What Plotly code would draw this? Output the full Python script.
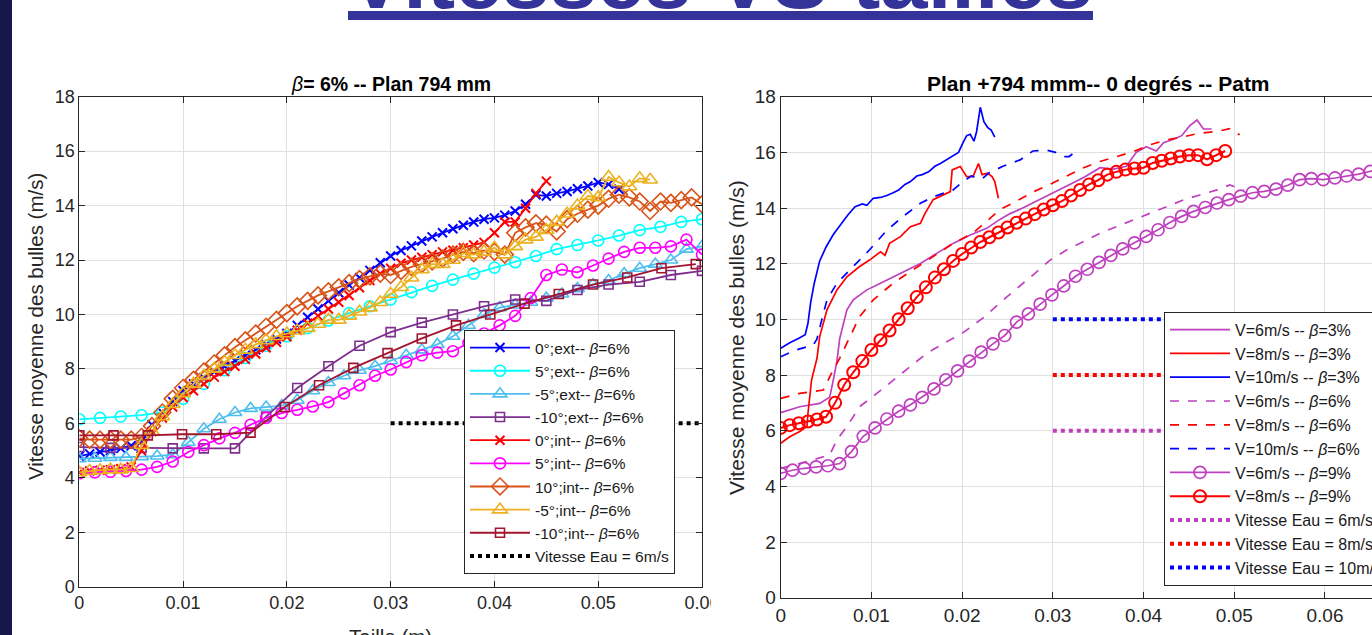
import plotly.graph_objects as go

W, H = 1420, 660
FONT = "Liberation Sans, Arial, sans-serif"
INK = "#262626"
GRID = "#e0e0e0"


def px(x):
    return x / W


def py(y):
    return 1 - y / H


# ---------------- left panel data (beta = 6 %) ----------------
X_BLUE = [round(i * 0.001, 4) for i in range(53)]
V_0_EXT = [4.80, 4.88, 4.95, 5.00, 5.08, 5.18, 5.35, 5.95, 6.40, 6.80,
           7.20, 7.45, 7.68, 7.90, 8.10, 8.30, 8.50, 8.70, 8.90, 9.10,
           9.30, 9.60, 9.90, 10.20, 10.50, 10.80, 11.08, 11.35, 11.62, 11.90,
           12.15, 12.35, 12.52, 12.70, 12.85, 13.00, 13.15, 13.28, 13.40, 13.50,
           13.55, 13.65, 13.80, 14.05, 14.40, 14.35, 14.45, 14.52, 14.62, 14.72,
           14.85, 14.78, 14.60]

X_CYAN = [round(i * 0.002, 4) for i in range(31)]
V_5_EXT = [6.15, 6.20, 6.25, 6.30, 6.40, 6.90, 7.45, 7.95, 8.40, 8.85,
           9.20, 9.50, 9.78, 10.05, 10.30, 10.55, 10.82, 11.05, 11.28, 11.50,
           11.72, 11.92, 12.15, 12.40, 12.55, 12.72, 12.90, 13.10, 13.22, 13.40,
           13.50]

X_LBLUE = [round(i * 0.0015, 4) for i in range(41)]
V_M5_EXT = [4.70, 4.72, 4.75, 4.75, 4.78, 4.80, 4.85, 5.30, 5.80, 6.15,
            6.40, 6.55, 6.60, 6.65, 6.85, 7.20, 7.50, 7.75, 7.95, 8.10,
            8.30, 8.50, 8.70, 8.90, 9.20, 9.60, 10.00, 10.25, 10.35, 10.45,
            10.60, 10.75, 10.95, 11.10, 11.25, 11.50, 11.70, 11.85, 12.00, 12.40,
            12.50]

X_PURPLE = [round(i * 0.003, 4) for i in range(21)]
V_M10_EXT = [5.13, 5.10, 5.10, 5.08, 5.08, 5.08, 6.25, 7.30, 8.10, 8.85,
             9.35, 9.70, 10.00, 10.30, 10.55, 10.50, 10.90, 11.10, 11.20, 11.45,
             11.60]

X_RED = [round(i * 0.001, 4) for i in range(46)]
V_0_INT = [4.20, 4.25, 4.28, 4.30, 4.33, 4.40, 5.00, 5.70, 6.20, 6.60,
           6.95, 7.20, 7.45, 7.70, 7.90, 8.10, 8.35, 8.55, 8.78, 8.98,
           9.18, 9.42, 9.68, 9.95, 10.20, 10.45, 10.70, 10.98, 11.25, 11.50,
           11.70, 11.88, 12.00, 12.10, 12.20, 12.30, 12.36, 12.45, 12.55, 12.65,
           13.00, 13.40, 13.40, 13.90, 14.45, 14.90]

X_MAGENTA = [round(i * 0.0015, 4) for i in range(41)]
V_5_INT = [4.17, 4.20, 4.22, 4.25, 4.30, 4.40, 4.60, 4.95, 5.20, 5.45,
           5.65, 5.95, 6.20, 6.38, 6.50, 6.62, 6.78, 7.10, 7.40, 7.75,
           7.98, 8.25, 8.50, 8.60, 8.65, 8.95, 9.30, 9.60, 9.95, 10.60,
           11.45, 11.65, 11.55, 11.80, 12.05, 12.30, 12.45, 12.45, 12.50, 12.75,
           12.20]

X_ORANGE = [round(i * 0.001, 4) for i in range(61)]
V_10_INT = [5.45, 5.40, 5.40, 5.40, 5.40, 5.40, 5.50, 5.90, 6.40, 6.90,
            7.30, 7.60, 7.90, 8.20, 8.50, 8.80, 9.05, 9.30, 9.55, 9.80,
            10.05, 10.30, 10.50, 10.70, 10.85, 11.00, 11.15, 11.30, 11.40, 11.50,
            11.45, 11.60, 11.75, 11.85, 11.95, 12.05, 12.20, 12.30, 12.25, 12.35,
            12.30, 12.20, 13.00, 13.20, 13.35, 13.30, 13.05, 13.50, 13.70, 13.85,
            14.00, 14.25, 14.40, 14.30, 14.15, 13.80, 14.15, 14.10, 14.20, 14.30,
            14.05]

X_YELLOW = [round(i * 0.001, 4) for i in range(56)]
V_M5_INT = [4.20, 4.25, 4.28, 4.30, 4.30, 4.35, 5.20, 5.70, 6.25, 6.70,
            7.10, 7.45, 7.75, 8.00, 8.25, 8.50, 8.70, 8.90, 9.05, 9.20,
            9.30, 9.40, 9.50, 9.65, 9.80, 9.80, 9.95, 10.10, 10.25, 10.45,
            10.75, 11.00, 11.35, 11.65, 11.85, 11.85, 12.00, 12.25, 12.20, 12.30,
            12.45, 12.20, 12.50, 12.75, 12.85, 13.10, 13.40, 13.70, 14.00, 14.35,
            14.30, 15.05, 14.85, 14.70, 15.00, 14.95]

X_DKRED = [0, 0.0033, 0.0066, 0.0099, 0.0132, 0.0165, 0.0198, 0.0231, 0.0264, 0.0297,
           0.0330, 0.0363, 0.0396, 0.0429, 0.0462, 0.0495, 0.0528, 0.0561, 0.0594]
V_M10_INT = [5.56, 5.56, 5.56, 5.60, 5.60, 5.66, 6.60, 7.40, 8.04, 8.58,
             9.12, 9.60, 10.00, 10.40, 10.75, 11.10, 11.36, 11.70, 11.85]

X_EAU_L = [0.03, 0.06]
V_EAU_L = [6, 6]

LEFT_NAMES = ["0°;ext-- <i>β</i>=6%", "5°;ext-- <i>β</i>=6%", "-5°;ext-- <i>β</i>=6%",
              "-10°;ext-- <i>β</i>=6%", "0°;int-- <i>β</i>=6%", "5°;int-- <i>β</i>=6%",
              "10°;int-- <i>β</i>=6%", "-5°;int-- <i>β</i>=6%", "-10°;int-- <i>β</i>=6%",
              "Vitesse Eau = 6m/s"]

# ---------------- right panel data (plan +794 mm) ----------------
X_V10_B3 = [0, 0.001, 0.002, 0.0027, 0.003, 0.0033, 0.0037, 0.0043, 0.005, 0.0058,
            0.0066, 0.0074, 0.0082, 0.009, 0.0095, 0.0102, 0.011, 0.0117, 0.0124, 0.013,
            0.0137, 0.0143, 0.015, 0.0156, 0.0163, 0.017, 0.0176, 0.0183, 0.019, 0.0196,
            0.0201, 0.0205, 0.0209, 0.0213, 0.0216, 0.0220, 0.0224, 0.0228, 0.0232, 0.0236]
V_V10_B3 = [8.96, 9.16, 9.32, 9.45, 9.85, 10.6, 11.3, 12.1, 12.6, 13.05,
            13.4, 13.75, 14.05, 14.15, 14.1, 14.35, 14.38, 14.45, 14.55, 14.65,
            14.85, 14.95, 15.15, 15.2, 15.3, 15.5, 15.6, 15.75, 15.9, 16.0,
            16.35, 16.6, 16.65, 16.4, 16.75, 17.62, 17.1, 16.9, 16.8, 16.55]

X_V10_B6 = [0, 0.0017, 0.0036, 0.004, 0.0045, 0.0051, 0.0062, 0.008, 0.0098, 0.0117,
            0.0135, 0.0154, 0.0168, 0.019, 0.0201, 0.021, 0.0222, 0.0229, 0.0245, 0.0264,
            0.0278, 0.0293, 0.0303, 0.0312, 0.0318, 0.0322]
V_V10_B6 = [8.66, 8.9, 9.08, 9.3, 9.95, 10.7, 11.3, 11.9, 12.5, 13.2,
            13.7, 14.17, 14.4, 14.65, 14.95, 15.15, 15.05, 15.25, 15.5, 15.73,
            16.05, 16.08, 16.0, 15.85, 15.85, 15.95]

X_V8_B3 = [0, 0.001, 0.0021, 0.0029, 0.003, 0.0034, 0.004, 0.0043, 0.0051, 0.0062,
           0.0073, 0.0087, 0.0098, 0.011, 0.0115, 0.012, 0.0132, 0.0143, 0.0154, 0.0159,
           0.0168, 0.0179, 0.0187, 0.0189, 0.0198, 0.0205, 0.0212, 0.0218, 0.0222, 0.0228,
           0.0233, 0.0236, 0.024]
V_V8_B3 = [5.55, 5.78, 5.97, 6.15, 6.6, 7.82, 8.6, 9.38, 10.34, 11.06,
           11.53, 11.9, 12.13, 12.43, 12.3, 12.73, 12.97, 13.33, 13.45, 13.8,
           14.3, 14.47, 14.59, 15.37, 15.49, 15.13, 15.13, 15.6, 15.2, 15.25,
           15.13, 14.95, 14.35]

X_V8_B6 = [0, 0.0021, 0.0047, 0.0055, 0.0065, 0.0073, 0.0087, 0.0102, 0.0124, 0.0146,
           0.0168, 0.019, 0.0212, 0.0242, 0.026, 0.0279, 0.0297, 0.0315, 0.0334, 0.0352,
           0.037, 0.0389, 0.0407, 0.0426, 0.0444, 0.0462, 0.0481, 0.0495, 0.0506]
V_V8_B6 = [7.16, 7.34, 7.46, 8.0, 8.6, 9.14, 10.1, 10.7, 11.3, 11.78,
           12.25, 12.73, 13.1, 13.95, 14.25, 14.59, 14.85, 15.13, 15.45, 15.67,
           15.85, 16.03, 16.27, 16.45, 16.56, 16.69, 16.75, 16.85, 16.63]

X_V6_B3 = [0, 0.0021, 0.0043, 0.0054, 0.0058, 0.0062, 0.0065, 0.0073, 0.008, 0.0095,
           0.011, 0.0124, 0.0139, 0.0154, 0.0172, 0.019, 0.0209, 0.0227, 0.0242, 0.0253,
           0.0264, 0.0286, 0.0297, 0.0315, 0.0334, 0.0352, 0.0367, 0.0381, 0.0392, 0.0403,
           0.0414, 0.0422, 0.0433, 0.0442, 0.0451, 0.0459, 0.0466, 0.0475]
V_V6_B3 = [6.65, 6.86, 6.98, 7.2, 7.82, 8.5, 9.3, 10.34, 10.7, 11.06,
           11.3, 11.53, 11.78, 12.01, 12.37, 12.73, 13.03, 13.27, 13.6, 13.8,
           13.96, 14.32, 14.5, 14.8, 15.1, 15.45, 15.4, 15.5, 16.0, 16.2,
           16.05, 16.35, 16.47, 16.6, 16.96, 17.16, 16.84, 16.84]

X_V6_B6 = [0, 0.0029, 0.0054, 0.0062, 0.0073, 0.0087, 0.0106, 0.0124, 0.0143, 0.0161,
           0.0183, 0.0198, 0.0225, 0.0249, 0.0279, 0.0297, 0.0315, 0.0334, 0.0352, 0.037,
           0.0389, 0.0407, 0.0426, 0.0444, 0.0462, 0.0481, 0.0495, 0.051]
V_V6_B6 = [4.65, 4.89, 5.13, 5.67, 6.15, 6.86, 7.34, 7.82, 8.3, 8.78,
           9.2, 9.45, 10.1, 10.8, 11.62, 12.13, 12.49, 12.79, 13.09, 13.33,
           13.57, 13.81, 14.05, 14.29, 14.47, 14.65, 14.83, 14.65]

X_V6_B9 = [round(i * 0.0013, 4) for i in range(52)]
V_V6_B9 = [4.47, 4.58, 4.65, 4.70, 4.74, 4.82, 5.25, 5.80, 6.10, 6.42,
           6.70, 6.93, 7.20, 7.50, 7.83, 8.15, 8.50, 8.82, 9.12, 9.42,
           9.90, 10.20, 10.55, 10.88, 11.20, 11.55, 11.80, 12.05, 12.30, 12.53,
           12.75, 12.98, 13.22, 13.48, 13.70, 13.88, 14.02, 14.18, 14.30, 14.43,
           14.55, 14.60, 14.68, 14.82, 15.02, 15.06, 15.02, 15.08, 15.15, 15.22,
           15.32, 15.40]

X_V8_B9 = [round(i * 0.001, 4) for i in range(50)]
V_V8_B9 = [6.10, 6.20, 6.27, 6.33, 6.40, 6.50, 7.00, 7.65, 8.10, 8.50,
           8.90, 9.25, 9.60, 10.00, 10.40, 10.80, 11.15, 11.50, 11.80, 12.10,
           12.35, 12.58, 12.78, 12.95, 13.12, 13.30, 13.47, 13.62, 13.78, 13.95,
           14.10, 14.25, 14.45, 14.65, 14.85, 15.00, 15.20, 15.30, 15.38, 15.42,
           15.45, 15.62, 15.70, 15.78, 15.85, 15.90, 15.90, 15.75, 15.90, 16.05]

X_EAU_R = [0.03, 0.07]
V_EAU_6 = [6, 6]
V_EAU_8 = [8, 8]
V_EAU_10 = [10, 10]

RIGHT_NAMES = ["V=6m/s -- <i>β</i>=3%", "V=8m/s -- <i>β</i>=3%", "V=10m/s -- <i>β</i>=3%",
               "V=6m/s -- <i>β</i>=6%", "V=8m/s -- <i>β</i>=6%", "V=10m/s -- <i>β</i>=6%",
               "V=6m/s -- <i>β</i>=9%", "V=8m/s -- <i>β</i>=9%",
               "Vitesse Eau = 6m/s", "Vitesse Eau = 8m/s", "Vitesse Eau = 10m/s"]

X_TICKS_L = [0, 0.01, 0.02, 0.03, 0.04, 0.05, 0.06]
X_TICKS_R = [0, 0.01, 0.02, 0.03, 0.04, 0.05, 0.06, 0.07]
Y_TICKS = [0, 2, 4, 6, 8, 10, 12, 14, 16, 18]

# ---------------- figure ----------------
fig = go.Figure()


def marked(x, y, name, color, symbol, size, lw=1.8, mlw=1.6, xa="x", ya="y", leg="legend", dash="solid"):
    fig.add_trace(go.Scatter(
        x=x, y=y, name=name, mode="lines+markers", xaxis=xa, yaxis=ya, legend=leg,
        line=dict(color=color, width=lw, dash=dash),
        marker=dict(symbol=symbol, size=size, color=color,
                    line=dict(color=color, width=mlw)),
    ))


def plain(x, y, name, color, lw=1.7, dash="solid", xa="x2", ya="y2", leg="legend2"):
    fig.add_trace(go.Scatter(
        x=x, y=y, name=name, mode="lines", xaxis=xa, yaxis=ya, legend=leg,
        line=dict(color=color, width=lw, dash=dash),
    ))


marked(X_BLUE, V_0_EXT, LEFT_NAMES[0], "#0000FF", "x-thin", 9, mlw=2)
marked(X_CYAN, V_5_EXT, LEFT_NAMES[1], "#00FFFF", "circle-open", 11)
marked(X_LBLUE, V_M5_EXT, LEFT_NAMES[2], "#4DBEEE", "triangle-up-open", 12)
marked(X_PURPLE, V_M10_EXT, LEFT_NAMES[3], "#7E2F8E", "square-open", 9)
marked(X_RED, V_0_INT, LEFT_NAMES[4], "#FF0000", "x-thin", 9, mlw=2)
marked(X_MAGENTA, V_5_INT, LEFT_NAMES[5], "#FF00FF", "circle-open", 11)
marked(X_ORANGE, V_10_INT, LEFT_NAMES[6], "#D95319", "diamond-open", 13)
marked(X_YELLOW, V_M5_INT, LEFT_NAMES[7], "#EDB120", "triangle-up-open", 13)
marked(X_DKRED, V_M10_INT, LEFT_NAMES[8], "#A2142F", "square-open", 9)
plain(X_EAU_L, V_EAU_L, LEFT_NAMES[9], "#000000", lw=4, dash="dot", xa="x", ya="y", leg="legend")

PURPLE = "#BF40BF"
plain(X_V6_B3, V_V6_B3, RIGHT_NAMES[0], PURPLE)
plain(X_V8_B3, V_V8_B3, RIGHT_NAMES[1], "#FF0000")
plain(X_V10_B3, V_V10_B3, RIGHT_NAMES[2], "#0000FF")
plain(X_V6_B6, V_V6_B6, RIGHT_NAMES[3], PURPLE, dash="dash")
plain(X_V8_B6, V_V8_B6, RIGHT_NAMES[4], "#FF0000", dash="dash")
plain(X_V10_B6, V_V10_B6, RIGHT_NAMES[5], "#0000FF", dash="dash")
marked(X_V6_B9, V_V6_B9, RIGHT_NAMES[6], PURPLE, "circle-open", 12, lw=1.7, mlw=1.7,
       xa="x2", ya="y2", leg="legend2")
marked(X_V8_B9, V_V8_B9, RIGHT_NAMES[7], "#FF0000", "circle-open", 12, lw=2, mlw=2,
       xa="x2", ya="y2", leg="legend2")
plain(X_EAU_R, V_EAU_6, RIGHT_NAMES[8], PURPLE, lw=4, dash="dot")
plain(X_EAU_R, V_EAU_8, RIGHT_NAMES[9], "#FF0000", lw=4, dash="dot")
plain(X_EAU_R, V_EAU_10, RIGHT_NAMES[10], "#0000FF", lw=4, dash="dot")


def axis_style(dom, rng, tickvals, size, anchor):
    return dict(domain=dom, range=rng, tickvals=tickvals, anchor=anchor,
                showgrid=True, gridcolor=GRID, gridwidth=1, zeroline=False,
                showline=True, linecolor=INK, linewidth=1, mirror="ticks",
                ticks="inside", ticklen=6, tickcolor=INK, tickwidth=1,
                tickfont=dict(family=FONT, size=size, color=INK))


L_X0, L_X1, L_Y0, L_Y1 = 79.3, 702.0, 586.7, 96.7
R_X0, R_X1, R_Y0, R_Y1 = 780.7, 1415.7, 597.7, 96.7

fig.update_layout(
    width=W, height=H,
    margin=dict(l=0, r=0, t=0, b=0, autoexpand=False),
    paper_bgcolor="white", plot_bgcolor="white",
    showlegend=True,
    xaxis=axis_style([px(L_X0), px(L_X1)], [0, 0.06], X_TICKS_L, 18, "y"),
    yaxis=axis_style([py(L_Y0), py(L_Y1)], [0, 18], Y_TICKS, 18, "x"),
    xaxis2=axis_style([px(R_X0), px(R_X1)], [0, 0.07], X_TICKS_R, 19, "y2"),
    yaxis2=axis_style([py(R_Y0), py(R_Y1)], [0, 18], Y_TICKS, 19, "x2"),
    legend=dict(x=px(464), y=py(330), xanchor="left", yanchor="top",
                bgcolor="white", bordercolor=INK, borderwidth=1,
                font=dict(family=FONT, size=15.5, color="#1a1a1a"),
                tracegroupgap=0, itemwidth=60),
    legend2=dict(x=px(1164), y=py(311.7), xanchor="left", yanchor="top",
                 bgcolor="white", bordercolor=INK, borderwidth=1,
                 font=dict(family=FONT, size=16, color="#1a1a1a"),
                 tracegroupgap=0, itemwidth=60),
)

ann = [
    dict(text="<b>Vitesses VS tailles</b>", x=px(720.5), y=py(28), xanchor="center", yanchor="bottom",
         font=dict(family=FONT, size=85, color="#333399")),
    dict(text="<i>β</i><b>= 6% -- Plan 794 mm</b>", x=px(390.6), y=py(84), xanchor="center",
         yanchor="middle", font=dict(family=FONT, size=19.5, color="#000000")),
    dict(text="<b>Plan +794 mmm-- 0 degrés -- Patm</b>", x=px(1098), y=py(84), xanchor="center",
         yanchor="middle", font=dict(family=FONT, size=21, color="#000000")),
    dict(text="Vitesse moyenne des bulles (m/s)", x=px(35), y=py(327), textangle=-90,
         xanchor="center", yanchor="middle", font=dict(family=FONT, size=20.5, color=INK)),
    dict(text="Vitesse moyenne des bulles (m/s)", x=px(736), y=py(338), textangle=-90,
         xanchor="center", yanchor="middle", font=dict(family=FONT, size=21, color=INK)),
    dict(text="Taille (m)", x=px(390.6), y=py(636), xanchor="center", yanchor="middle",
         font=dict(family=FONT, size=20.5, color=INK)),
    dict(text="Taille (m)", x=px(1098), y=py(648), xanchor="center", yanchor="middle",
         font=dict(family=FONT, size=21, color=INK)),
]
for a in ann:
    a.update(xref="paper", yref="paper", showarrow=False)
fig.update_layout(annotations=ann)

shapes = [
    dict(type="rect", x0=0, x1=px(12), y0=0, y1=1, fillcolor="#17174a", line=dict(width=0), layer="above"),
    dict(type="rect", x0=px(348), x1=px(1093), y0=py(20), y1=py(11), fillcolor="#333399",
         line=dict(width=0), layer="above"),
    dict(type="rect", x0=px(711), x1=px(742), y0=py(630), y1=py(592), fillcolor="white",
         line=dict(width=0), layer="above"),
]
for s in shapes:
    s.update(xref="paper", yref="paper")
fig.update_layout(shapes=shapes)

fig.write_html(
    "out.html",
    config={"displayModeBar": False},
    post_script="document.body.style.margin='0px';document.body.style.overflow='hidden';"
                "document.documentElement.style.overflow='hidden';",
)
